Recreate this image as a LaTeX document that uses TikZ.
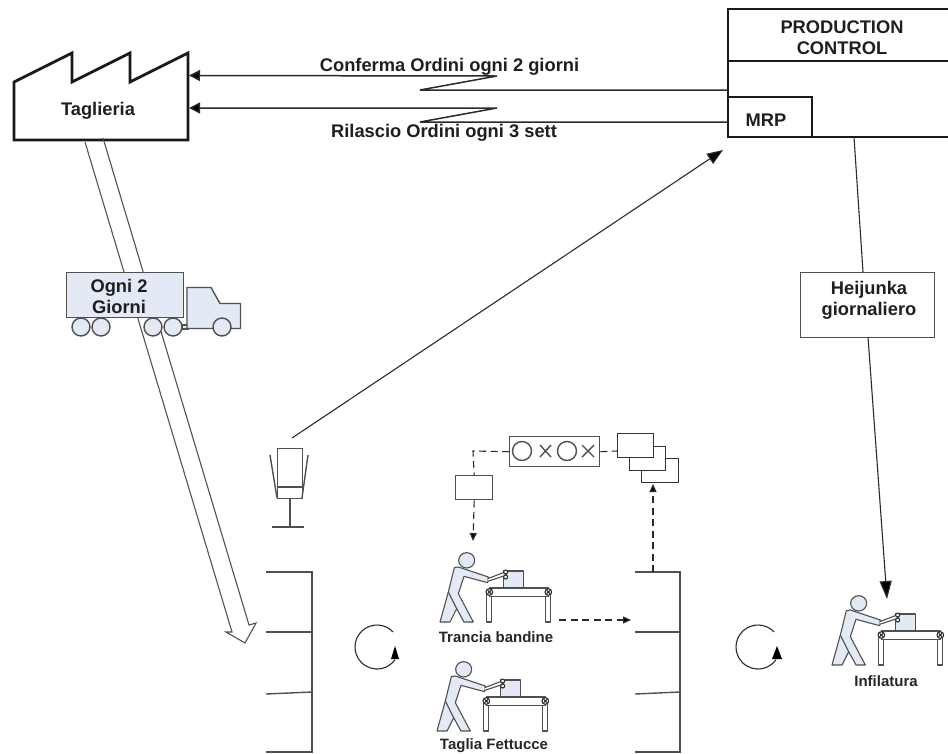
\documentclass[tikz,border=0pt]{standalone}
\usepackage{fontspec}
\setmainfont{Liberation Sans}
\usetikzlibrary{arrows.meta}
\definecolor{lblue}{HTML}{E3E9F5}
\definecolor{ink}{HTML}{2A2A2A}
\definecolor{soft}{HTML}{505050}
\newcommand{\bigtxt}{\fontsize{18.3}{21.5}\selectfont\bfseries}
\newcommand{\smalltxt}{\fontsize{15}{18}\selectfont\bfseries}
\tikzset{
  thick box/.style={draw=black!90,line width=2.8pt,line join=miter},
  thin line/.style={draw=ink,line width=1.1pt},
  soft line/.style={draw=soft,line width=1.4pt},
  dash line/.style={draw=ink,line width=1.1pt,dash pattern=on 7pt off 4.5pt},
  big label/.style={font=\bigtxt,text=black!88,inner sep=0pt,align=center},
  small label/.style={font=\smalltxt,text=black!85,inner sep=0pt,align=center},
  plain box/.style={draw=soft,line width=1.4pt,fill=white,inner sep=0pt,anchor=north west},
  tip big/.style={-{Triangle[length=11pt,width=11pt,fill=black]}},
  tip diag/.style={-{Triangle[length=16pt,width=12pt,fill=black]}},
  tip small/.style={-{Triangle[length=8pt,width=7pt,fill=black]}},
  tip huge/.style={-{Triangle[length=18pt,width=12pt,fill=black]}},
  worker/.pic={
    \begin{scope}[scale=1/3,draw=soft,line width=1.1pt,line join=round]
      \draw[fill=lblue] (80,-185) ellipse [x radius=24,y radius=23];
      \draw[fill=lblue] (25,-90) -- (43,-163) -- (55,-165) -- (145,-135) -- (143,-118)
        -- (72,-137) -- (55,-85) -- (100,0) -- (72,0) -- (50,-40) -- (30,0) -- (0,0) -- cycle;
      \draw (25,-90) -- (50,-40);
      \draw[fill=lblue] (190,-153) rectangle (250,-103);
      \draw[fill=white] (140,-82) rectangle (155,0);
      \draw[fill=white] (317,-82) rectangle (332,0);
      \draw[fill=white] (148,-102) rectangle (325,-77);
      \draw[fill=white,draw=ink] (148,-90) circle (10) (325,-90) circle (10);
      \draw[ink] (143,-95) -- (153,-85) (143,-85) -- (153,-95) (320,-95) -- (330,-85) (320,-85) -- (330,-95);
      \draw[fill=white] (143,-130) -- (195,-150) -- (198,-140) -- (143,-122);
      \draw[fill=white,draw=ink] (197,-150) circle (6) (197,-135) circle (6);
    \end{scope}
  }
}
\begin{document}
\begin{tikzpicture}[x=1pt,y=-1pt]
\useasboundingbox (0,0) rectangle (948,753);
\clip (0,0) rectangle (948,753);

% Taglieria factory
\draw[thick box] (14,82) -- (72,53) -- (72,82) -- (130,53) -- (130,82) -- (188,53) -- (188,140) -- (14,140) -- cycle;
\node[big label] (taglieria) at (98,111) {Taglieria};

% Production control
\draw[thick box] (950,9) -- (728,9) -- (728,137) -- (950,137);
\draw[thick box] (728,61) -- (950,61);
\draw[thick box] (728,97) -- (812,97) -- (812,137);
\node[big label] (pc) at (842,37.5) {PRODUCTION\\CONTROL};
\node[big label] (mrp) at (766,120) {MRP};

% Named ends
\coordinate (f1) at (189,75.5);
\coordinate (f2) at (189,108);
\coordinate (p1) at (727,90);
\coordinate (p2) at (727,122);
\coordinate (z1a) at (420,90);
\coordinate (z1b) at (497,76);
\coordinate (z2a) at (420,122);
\coordinate (z2b) at (497,108);
\draw[thin line,line width=1.5pt,tip big] (p1) -- (z1a) -- (z1b) -- (f1);
\draw[thin line,line width=1.5pt,tip big] (p2) -- (z2a) -- (z2b) -- (f2);
\node[big label] (conf) at (449.5,67) {Conferma Ordini ogni 2 giorni};
\node[big label] (rila) at (444,133) {Rilascio Ordini ogni 3 sett};

% Shipment arrow
\coordinate (s1) at (85,142);
\coordinate (s2) at (103,138);
\coordinate (sh1) at (232,632);
\coordinate (sh2) at (226,632);
\coordinate (sh3) at (245,643);
\coordinate (sh4) at (256,623);
\coordinate (sh5) at (249,625);
\draw[soft line,line width=1.1pt] (s1) -- (sh1) -- (sh2) -- (sh3) -- (sh4) -- (sh5) -- (s2);

% Truck
\draw[soft line,fill=lblue] (182,325) rectangle (188,329);
\draw[soft line,fill=lblue] (187,287.5) -- (211,287.5) -- (220,303.5) -- (240.5,303.5) -- (240.5,328.5) -- (187,328.5) -- cycle;
\draw[soft line,fill=lblue] (81,327) circle (9) (101,327) circle (9) (153,327) circle (9) (173,327) circle (9) (222,327) circle (9);
\node[plain box,fill=lblue,minimum width=117pt,minimum height=45pt] (trailer) at (66,272) {};
\node[big label] (truckl) at (119,296.5) {Ogni 2\\Giorni};

% Heijunka
\node[plain box,minimum width=134pt,minimum height=65pt] (hj) at (800,272) {};
\node[big label] (hjl) at (869,300.5) {Heijunka\\giornaliero};
\coordinate (h1) at (854,137);
\coordinate (h2) at (863,272);
\coordinate (h3) at (868,337);
\coordinate (h4) at (887,599);
\draw[thin line] (h1) -- (h2);
\draw[thin line,tip huge] (h3) -- (h4);

% Kanban post
\node[plain box,fill=none,minimum width=25pt,minimum height=50pt] (post) at (277,448) {};
\draw[soft line] (277,487) -- (302,487);
\draw[soft line] (270,455) -- (277,498);
\draw[soft line] (308,455) -- (302,498);
\draw[soft line] (290,498) -- (290,527);
\draw[soft line] (272,527) -- (304,527);
\coordinate (k1) at (292,438);
\coordinate (k2) at (723,150);
\draw[thin line,tip diag] (k1) -- (k2);

% Supermarkets
\draw[soft line] (266,572) -- (312,572) -- (312,752) -- (266,752);
\draw[soft line] (266,632) -- (312,632);
\draw[soft line] (266,694) -- (312,692);
\draw[soft line] (635,572) -- (680,572) -- (680,752) -- (635,752);
\draw[soft line] (635,632) -- (680,632);
\draw[soft line] (635,694) -- (680,692);

% Rotations
\draw[thin line] (377,647) ++(-43:22) arc[start angle=-43,end angle=-325,radius=22];
\fill[black] (395,646) -- (391,659) -- (399,659) -- cycle;
\draw[thin line] (758,647) ++(-43:22) arc[start angle=-43,end angle=-325,radius=22];
\fill[black] (777,646) -- (772,659) -- (782,659) -- cycle;

% Signal box and kanbans
\node[plain box,minimum width=90pt,minimum height=30pt] (sig) at (509,436) {};
\draw[soft line] (522,451) circle (9.5) (567,451) circle (9.5);
\draw[soft line] (540,445) -- (551,457) (540,457) -- (551,445);
\draw[soft line] (582,445) -- (594,457) (582,457) -- (594,445);
\node[plain box,minimum width=37pt,minimum height=24pt] (kb) at (455,475) {};
\node[plain box,draw=black!80,minimum width=37pt,minimum height=24pt] (k3) at (641,458) {};
\node[plain box,draw=black!80,minimum width=36pt,minimum height=24pt] (k2b) at (629,446) {};
\node[plain box,draw=black!80,minimum width=36pt,minimum height=24pt] (k1b) at (617,433) {};
\draw[dash line] (sig.west) -- (473,451) -- (kb.north);
\draw[dash line] (sig.east) -- (617,451);
\coordinate (d1) at (473,541);
\draw[dash line,tip small] (kb.south) -- (d1);
\coordinate (u1) at (653,572);
\coordinate (u2) at (653,484);
\draw[dash line,tip small] (u1) -- (u2);
\coordinate (r1) at (559,620);
\coordinate (r2) at (631,620);
\draw[dash line,tip small] (r1) -- (r2);

% Workers
\pic at (440,622) {worker};
\pic at (437,731) {worker};
\pic at (832,665) {worker};
\node[small label] (t1) at (496,637) {Trancia bandine};
\node[small label] (t2) at (494,746) {Taglia Fettucce};
\node[small label] (t3) at (886,681) {Infilatura};
\end{tikzpicture}
\end{document}
